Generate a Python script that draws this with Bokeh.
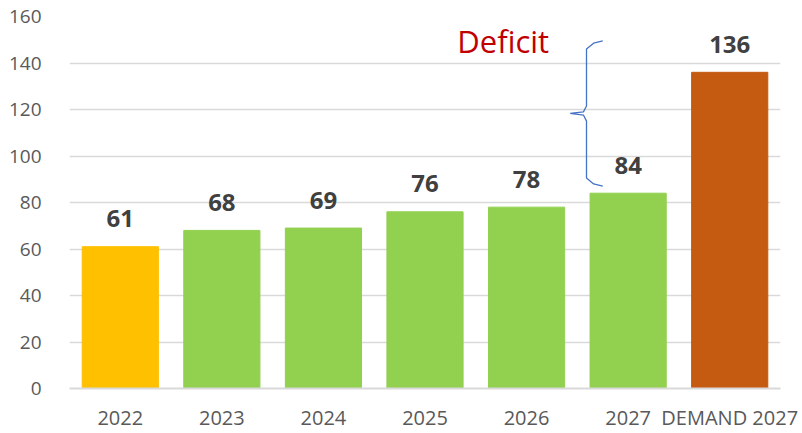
from bokeh.plotting import figure
from bokeh.models import ColumnDataSource, FactorRange, Range1d, FixedTicker
from bokeh.core.properties import value
from bokeh.embed import file_html
from bokeh.resources import INLINE

categories = ["2022", "2023", "2024", "2025", "2026", "2027", "DEMAND 2027"]
values = [61, 68, 69, 76, 78, 84, 136]
colors = ["#FFC000", "#92D050", "#92D050", "#92D050", "#92D050", "#92D050", "#C55A11"]
y_ticks = [0, 20, 40, 60, 80, 100, 120, 140, 160]

# annotation: brace (synthetic categorical x units, data y units)
brace_x = [5.25, 5.16, 5.09, 5.09, 5.06, 4.93, 5.06, 5.09, 5.09, 5.16, 5.25]
brace_y = [149.5, 148.5, 146.0, 121.5, 119.0, 118.3, 117.6, 115.0, 90.5, 88.0, 87.0]

src = ColumnDataSource(dict(x=categories, top=values, color=colors,
                            label=[str(v) for v in values]))

p = figure(width=802, height=433, x_range=FactorRange(*categories),
           y_range=Range1d(0, 160), output_backend="svg", toolbar_location=None,
           min_border_left=69, min_border_right=22, min_border_top=16,
           min_border_bottom=45)
p.outline_line_color = None
p.background_fill_color = "white"
p.border_fill_color = "white"

p.vbar(x="x", top="top", width=0.75, color="color", source=src)
p.text(x="x", y="top", text="label", source=src, y_offset=-28,
       text_align="center", text_baseline="middle",
       text_font=value("Open Sans"), text_font_style="bold",
       text_font_size="24px", text_color="#404040")

p.line(brace_x, brace_y, line_color="#4472C4", line_width=1.3)
p.text(x=[4.27], y=[149.5], text=["Deficit"], text_align="center",
       text_baseline="middle", text_font=value("Open Sans"),
       text_font_size="31px", text_color="#C00000")

p.yaxis.ticker = FixedTicker(ticks=y_ticks)
p.yaxis.axis_line_color = None
p.yaxis.major_tick_line_color = None
p.yaxis.minor_tick_line_color = None
p.yaxis.major_label_text_font = "Open Sans"
p.yaxis.major_label_text_font_size = "19px"
p.yaxis.major_label_text_color = "#595959"
p.yaxis.major_label_standoff = 22

p.xaxis.axis_line_color = "#D9D9D9"
p.xaxis.axis_line_width = 2
p.xaxis.major_tick_line_color = None
p.xaxis.minor_tick_line_color = None
p.xaxis.major_label_text_font = "Open Sans"
p.xaxis.major_label_text_font_size = "20px"
p.xaxis.major_label_text_color = "#595959"
p.xaxis.major_label_standoff = 9

p.xgrid.grid_line_color = None
p.ygrid.grid_line_color = "#D9D9D9"
p.ygrid.grid_line_width = 1.5

open("out.html", "w").write(file_html(p, INLINE))
